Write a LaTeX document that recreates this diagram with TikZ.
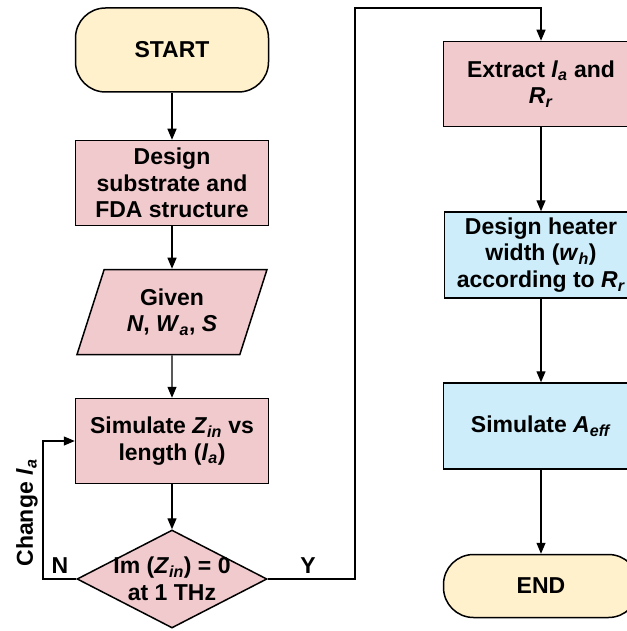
\documentclass[tikz,border=0pt]{standalone}
\usepackage{fontspec}
\setmainfont{Liberation Sans}
\usetikzlibrary{shapes.geometric,arrows.meta}
\definecolor{boxpink}{RGB}{241,202,205}
\definecolor{boxyellow}{RGB}{255,241,204}
\definecolor{boxblue}{RGB}{204,237,249}
\newcommand{\vsub}[2]{\textit{#1}\textsubscript{\textit{#2}}}
\begin{document}
\begin{tikzpicture}[x=1pt, y=-1pt, font=\fontsize{23}{26.5}\selectfont\bfseries,
        block/.style={draw, line width=1.5pt, align=center, minimum width=193pt, minimum height=85pt, inner sep=0pt},
        term/.style={block, rounded corners=30pt, fill=boxyellow},
        flow/.style={line width=1.3pt, -{Triangle[length=11pt,width=9pt]}}]
        \useasboundingbox (0,0) rectangle (626,631);
        % Left column
        \node[term, minimum height=84pt] (start) at (172,50) {START};
        \node[block, fill=boxpink] (design) at (172,183) {Design\\substrate and\\FDA structure};
        \node[trapezium, trapezium left angle=60, trapezium right angle=120, trapezium stretches body,
            draw, line width=1.5pt, fill=boxpink, minimum width=190pt, minimum height=85pt, inner sep=0pt,
            align=center] (given) at (172,312) {Given\\\textit{N}, \vsub{W}{a}, \textit{S}};
        \node[block, fill=boxpink] (sim) at (172,441) {Simulate \vsub{Z}{in} vs\\length (\vsub{l}{a})};
        \node[diamond, draw, line width=1.5pt, fill=boxpink, minimum width=190pt, minimum height=98pt,
            inner sep=0pt] (check) at (172,579) {};
        \node[align=center] (checktext) at (check) {Im (\vsub{Z}{in}) = 0\\at 1 THz};
        % Right column
        \node[block, fill=boxpink, minimum width=195pt] (extract) at (541,84) {Extract \vsub{l}{a} and\\\vsub{R}{r}};
        \node[block, fill=boxblue, minimum height=86pt] (heater) at (541,255) {Design heater\\width (\vsub{w}{h})\\according to \vsub{R}{r}};
        \node[block, fill=boxblue, minimum width=195pt, minimum height=86pt] (aeff) at (541,426) {Simulate \vsub{A}{eff}};
        \node[term, minimum width=195pt, minimum height=63pt] (end) at (541,586) {END};
        % Connectors
        \draw[flow] (start) -- (design);
        \draw[flow] (design) -- (given);
        \draw[flow] (given) -- (sim);
        \draw[flow] (sim) -- (check);
        \coordinate (nturn) at (43,579);
        \draw[flow] (check.west) -- (nturn) |- (sim.west);
        \coordinate (yturn) at (355,579);
        \coordinate (ytop) at (355,8);
        \draw[flow] (check.east) -- (yturn) -- (ytop) -| (extract.north);
        \draw[flow] (extract) -- (heater);
        \draw[flow] (heater) -- (aeff);
        \draw[flow] (aeff) -- (end);
        % Labels
        \node (nlabel) at (60,566) {N};
        \node (ylabel) at (308,566) {Y};
        \node[rotate=90] (change) at (27,513) {Change \vsub{l}{a}};
\end{tikzpicture}
\end{document}
